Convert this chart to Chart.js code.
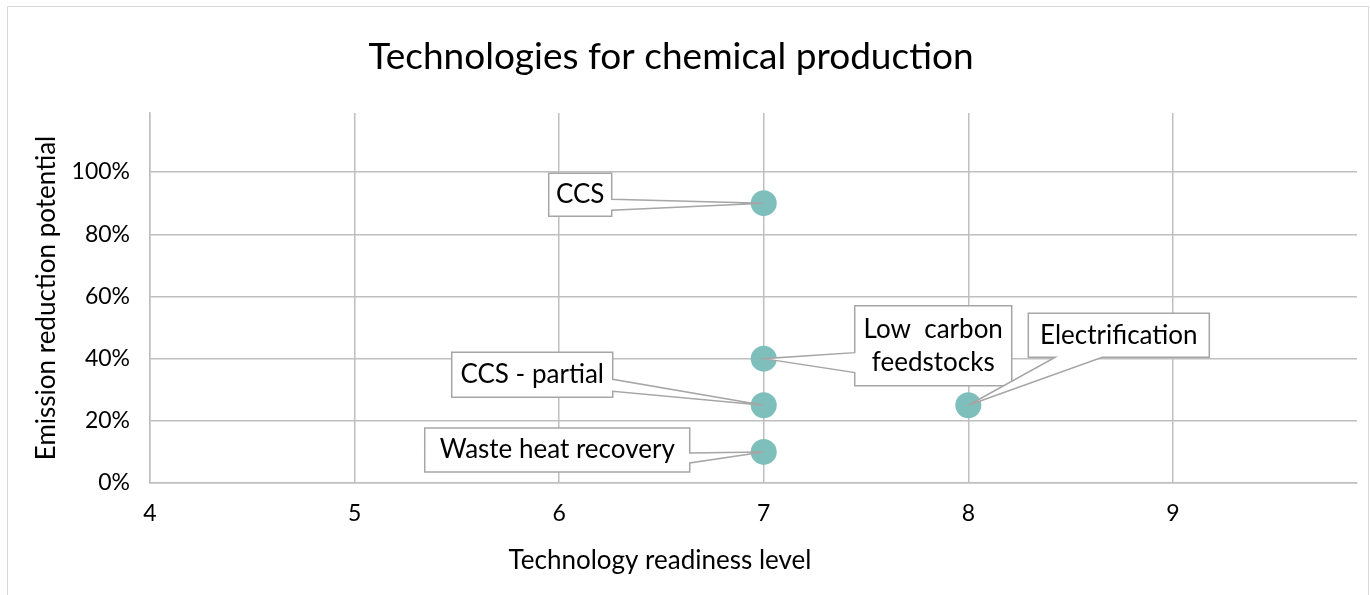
<!DOCTYPE html>
<html>
<head>
<meta charset="utf-8">
<script src="https://cdn.jsdelivr.net/npm/chart.js@4"></script>
<style>
  html, body { margin: 0; padding: 0; background: #fff; }
  #wrap { width: 1370px; height: 595px; }
</style>
</head>
<body>
<div id="wrap"><canvas id="chart" width="1370" height="595"></canvas></div>
<script>
// data
const technologies = [["CCS"], ["Low  carbon", "feedstocks"], ["CCS - partial"], ["Waste heat recovery"], ["Electrification"]];
const readinessLevel = [7, 7, 7, 7, 8];
const reductionPotential = [0.9, 0.4, 0.25, 0.1, 0.25];
const xTicks = [4, 5, 6, 7, 8, 9];
const yTicks = [0, 0.2, 0.4, 0.6, 0.8, 1.0];

const FONT = "Lato, 'Noto Sans', sans-serif";
const GRID = "#bfbfbf";
const POINT = "#7fbfbb";

// callout boxes, placed relative to their point (px)
const callouts = [
  { dx: -215, dy: -30, w: 63, h: 43, side: "right", a: 26, b: 37 },
  { dx: 91, dy: -53, w: 157, h: 80, side: "left", a: 47, b: 67 },
  { dx: -312, dy: -53, w: 161, h: 45, side: "right", a: 27, b: 39 },
  { dx: -339, dy: -24, w: 265, h: 44, side: "right", a: 25, b: 35 },
  { dx: 60, dy: -92, w: 181, h: 44, side: "bottom", a: 27, b: 74 },
];

const calloutPlugin = {
  id: "callouts",
  afterDatasetsDraw(chart) {
    const ctx = chart.ctx;
    const meta = chart.getDatasetMeta(0);
    ctx.save();
    meta.data.forEach((pt, i) => {
      const c = callouts[i];
      const L = pt.x + c.dx, T = pt.y + c.dy, R = L + c.w, B = T + c.h;
      ctx.beginPath();
      ctx.moveTo(L, T);
      ctx.lineTo(R, T);
      if (c.side === "right") {
        ctx.lineTo(R, T + c.a); ctx.lineTo(pt.x, pt.y); ctx.lineTo(R, T + c.b);
      }
      ctx.lineTo(R, B);
      if (c.side === "bottom") {
        ctx.lineTo(L + c.b, B); ctx.lineTo(pt.x, pt.y); ctx.lineTo(L + c.a, B);
      }
      ctx.lineTo(L, B);
      if (c.side === "left") {
        ctx.lineTo(L, T + c.b); ctx.lineTo(pt.x, pt.y); ctx.lineTo(L, T + c.a);
      }
      ctx.closePath();
      ctx.fillStyle = "#fff";
      ctx.fill();
      ctx.lineWidth = 1.5;
      ctx.strokeStyle = "#a6a6a6";
      ctx.stroke();

      const lines = technologies[i];
      ctx.fillStyle = "#000";
      ctx.font = "26px " + FONT;
      ctx.textAlign = "center";
      ctx.textBaseline = "middle";
      const lh = 33;
      const cy = (T + B) / 2 - (lines.length - 1) * lh / 2;
      lines.forEach((s, k) => ctx.fillText(s, (L + R) / 2, cy + k * lh));
    });
    ctx.restore();
  },
};

const framePlugin = {
  id: "frame",
  beforeDraw(chart) {
    const ctx = chart.ctx;
    ctx.save();
    ctx.fillStyle = "#fff";
    ctx.fillRect(0, 0, chart.width, chart.height);
    ctx.strokeStyle = "#d9d9d9";
    ctx.lineWidth = 1;
    ctx.strokeRect(7.5, 6.5, 1361, 600);
    ctx.restore();
  },
  afterDraw(chart) {
    const ctx = chart.ctx;
    ctx.save();
    ctx.fillStyle = "#000";
    ctx.textAlign = "center";
    ctx.textBaseline = "middle";
    ctx.font = "37px " + FONT;
    ctx.fillText("Technologies for chemical production", 671, 57);
    ctx.font = "26px " + FONT;
    ctx.fillText("Technology readiness level", 660, 561);
    ctx.restore();
  },
};

new Chart(document.getElementById("chart"), {
  type: "scatter",
  data: {
    datasets: [
      {
        data: readinessLevel.map((x, i) => ({ x: x, y: reductionPotential[i] })),
        backgroundColor: POINT,
        borderWidth: 0,
        pointRadius: 13,
        pointHoverRadius: 13,
      },
    ],
  },
  options: {
    responsive: false,
    animation: false,
    events: [],
    layout: { padding: { left: 0, top: 113, right: 11, bottom: 0 } },
    plugins: {
      legend: { display: false },
      tooltip: { enabled: false },
      title: { display: false },
    },
    scales: {
      x: {
        type: "linear",
        min: 4,
        max: 9.9,
        afterBuildTicks: (scale) => {
          scale.ticks = xTicks.map((v) => ({ value: v }));
        },
        afterFit: (scale) => { scale.height = 112; },
        grid: { color: GRID, lineWidth: 1.5, drawTicks: false },
        border: { color: GRID, width: 1.5 },
        ticks: { color: "#000", padding: 17, font: { family: FONT, size: 23 } },
      },
      y: {
        min: 0,
        max: 1.19,
        afterBuildTicks: (scale) => {
          scale.ticks = yTicks.map((v) => ({ value: v }));
        },
        afterFit: (scale) => { scale.width = 150; },
        grid: { color: GRID, lineWidth: 1.5, drawTicks: false },
        border: { color: GRID, width: 1.5 },
        ticks: {
          color: "#000",
          padding: 20,
          font: { family: FONT, size: 23 },
          callback: (v) => Math.round(v * 100) + "%",
        },
        title: {
          display: true,
          text: "Emission reduction potential",
          color: "#000",
          padding: { top: 31, bottom: 0 },
          font: { family: FONT, size: 26 },
        },
      },
    },
  },
  plugins: [framePlugin, calloutPlugin],
});
</script>
</body>
</html>
